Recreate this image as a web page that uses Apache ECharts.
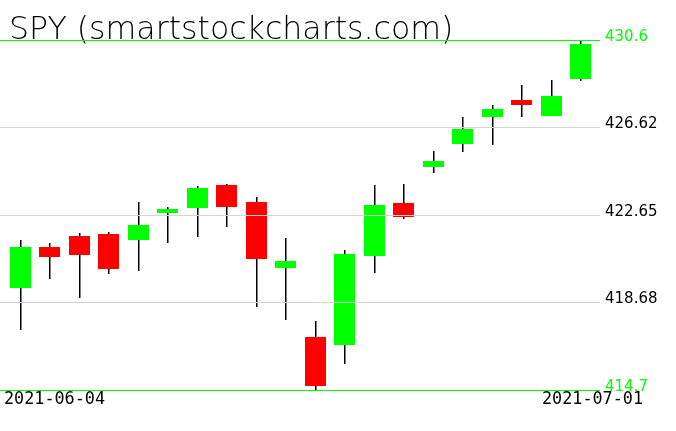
<!DOCTYPE html>
<html>
<head>
<meta charset="utf-8">
<script src="https://cdn.jsdelivr.net/npm/echarts@6/dist/echarts.min.js"></script>
<style>
html,body{margin:0;padding:0;background:#fff;}
#chart{width:676px;height:431px;}
</style>
</head>
<body>
<div id="chart"></div>
<script>
// ---- data ----
const dates = ['2021-06-04','2021-06-07','2021-06-08','2021-06-09','2021-06-10','2021-06-11',
  '2021-06-14','2021-06-15','2021-06-16','2021-06-17','2021-06-18',
  '2021-06-21','2021-06-22','2021-06-23','2021-06-24','2021-06-25',
  '2021-06-28','2021-06-29','2021-06-30','2021-07-01'];
const opens  = [419.35,421.20,421.70,421.79,421.51,422.74,422.97,424.01,423.24,420.24,417.11,416.74,420.79,423.20,424.83,425.88,427.10,427.87,427.15,428.83];
const closes = [421.20,420.74,420.83,420.20,422.20,422.92,423.88,423.01,420.65,420.56,414.88,420.88,423.10,422.57,425.10,426.56,427.47,427.65,428.06,430.42];
const lows   = [417.43,419.74,418.88,419.97,420.11,421.38,421.65,422.11,418.47,417.88,414.70,415.88,420.02,422.48,424.56,425.51,425.83,427.10,427.15,428.74];
const highs  = [421.51,421.38,421.83,421.88,423.24,423.01,423.97,424.06,423.47,421.61,417.83,421.06,424.01,424.06,425.56,427.10,427.65,428.56,428.78,430.60];
const yMin = 414.7, yMax = 430.6;
const tickValues = [414.7, 418.675, 422.65, 426.625, 430.6];
const tickLabels = ['414.7', '418.68', '422.65', '426.62', '430.6'];
const titleText = 'SPY (smartstockcharts.com)';

// ---- styles ----
const UP = '#00ff00', DOWN = '#ff0000', EDGE = '#00ff00', GRIDC = '#d3d3d3';
const BODY_W = 21;

const candleData = dates.map((d, i) => [i, opens[i], closes[i], lows[i], highs[i]]);

function renderItem(params, api) {
  const i = api.value(0);
  const o = api.value(1), c = api.value(2), l = api.value(3), h = api.value(4);
  const pO = api.coord([i, o]), pC = api.coord([i, c]);
  const pL = api.coord([i, l]), pH = api.coord([i, h]);
  const cx = pO[0];
  const wx = Math.floor(cx) + 0.75;
  const bx = Math.round(cx - BODY_W / 2);
  const top = Math.round(Math.min(pO[1], pC[1]));
  const bot = Math.round(Math.max(pO[1], pC[1]));
  return {
    type: 'group',
    children: [
      { type: 'line', shape: { x1: wx, y1: Math.round(pH[1]), x2: wx, y2: Math.round(pL[1]) },
        style: { stroke: '#000', lineWidth: 1.5 } },
      { type: 'rect', shape: { x: bx, y: top, width: BODY_W, height: Math.max(1, bot - top) },
        style: { fill: c >= o ? UP : DOWN } }
    ]
  };
}

function nearestIdx(v) {
  let best = 0;
  for (let k = 1; k < tickValues.length; k++) {
    if (Math.abs(tickValues[k] - v) < Math.abs(tickValues[best] - v)) best = k;
  }
  return best;
}

const chart = echarts.init(document.getElementById('chart'), null, { renderer: 'canvas' });
chart.setOption({
  animation: false,
  backgroundColor: '#fff',
  title: {
    text: titleText,
    left: 4, top: 10,
    textStyle: { fontFamily: 'DejaVu Sans', fontSize: 31.6, fontWeight: 200, color: '#000' }
  },
  grid: [
    { left: 5.765, right: 80.7, top: 40, bottom: 41 },   // candles
    { left: 0, right: 76, top: 40, bottom: 41 },          // horizontal lines + price labels
    { left: 4, right: 33, top: 40, bottom: 41 }           // date labels
  ],
  xAxis: [
    { type: 'category', gridIndex: 0, data: dates, boundaryGap: true, show: false },
    { type: 'value', gridIndex: 1, show: false, min: 0, max: 1 },
    { type: 'category', gridIndex: 2, data: dates, boundaryGap: false,
      axisLine: { show: false }, axisTick: { show: false }, splitLine: { show: false },
      axisLabel: {
        interval: (idx) => idx === 0 || idx === dates.length - 1,
        alignMinLabel: 'left', alignMaxLabel: 'right',
        margin: 1, color: '#000', fontFamily: 'DejaVu Sans Mono', fontSize: 16.8
      }
    }
  ],
  yAxis: [
    { type: 'value', gridIndex: 0, min: yMin, max: yMax, show: false },
    { type: 'value', gridIndex: 1, min: yMin, max: yMax, position: 'right', z: 10,
      axisLine: { show: false },
      axisTick: { show: false, customValues: tickValues },
      splitLine: { show: true, lineStyle: { color: [EDGE, GRIDC, GRIDC, GRIDC, EDGE], width: 1 } },
      axisLabel: {
        customValues: tickValues,
        margin: 5,
        verticalAlign: 'bottom',
        lineHeight: 6,
        fontFamily: 'DejaVu Sans', fontSize: 15,
        formatter: (v) => tickLabels[nearestIdx(v)],
        color: (v) => { const k = nearestIdx(v); return (k === 0 || k === tickValues.length - 1) ? EDGE : '#000'; }
      }
    },
    { type: 'value', gridIndex: 2, show: false }
  ],
  series: [{
    type: 'custom',
    xAxisIndex: 0, yAxisIndex: 0,
    renderItem: renderItem,
    encode: { x: 0, y: [1, 2, 3, 4] },
    data: candleData
  }]
});
</script>
</body>
</html>
